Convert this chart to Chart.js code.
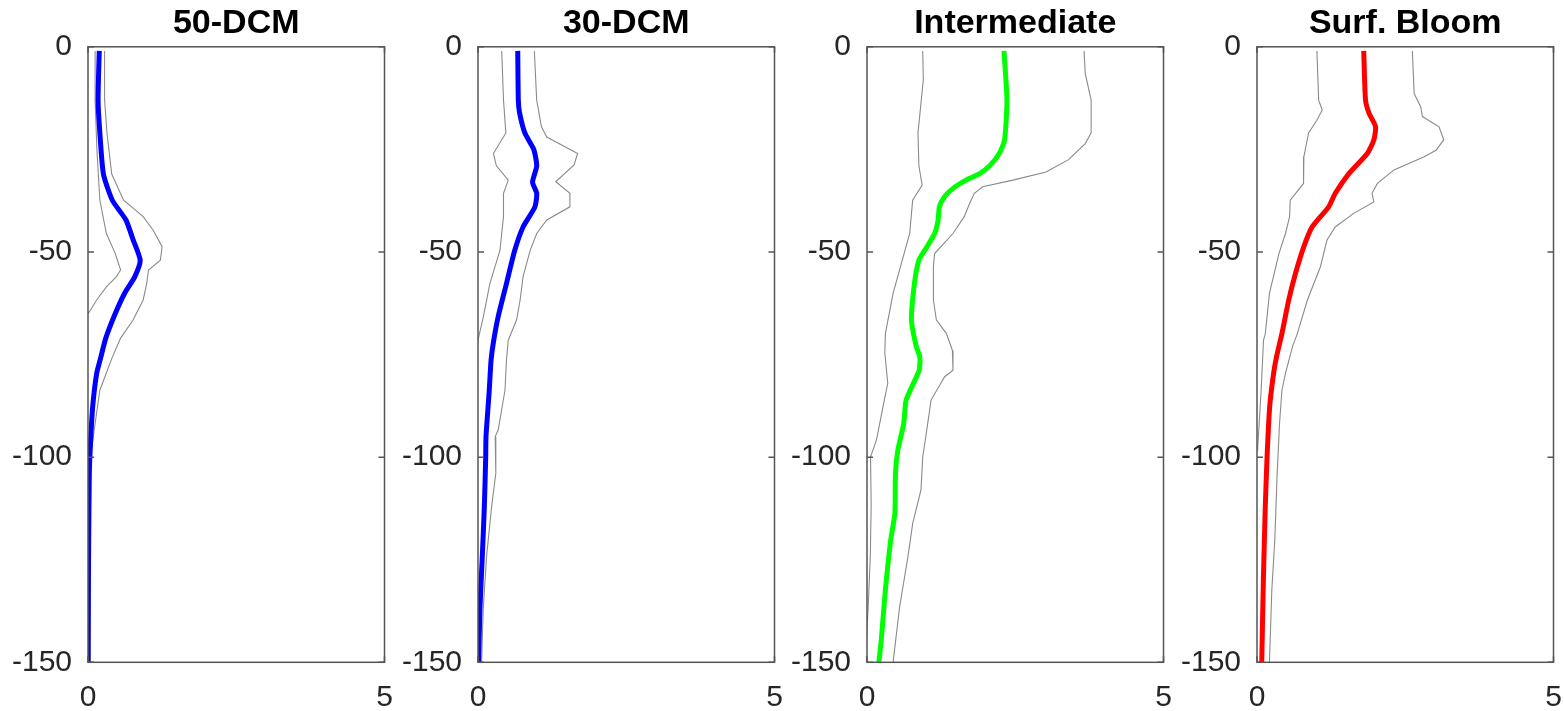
<!DOCTYPE html>
<html>
<head>
<meta charset="utf-8">
<script src="https://cdn.jsdelivr.net/npm/chart.js@4.4.1/dist/chart.umd.min.js"></script>
<style>
  html, body { margin: 0; background: #fff; }
  body { width: 1564px; height: 711px; position: relative; overflow: hidden; }
  canvas { position: absolute; top: 0; }
</style>
</head>
<body>
<canvas id="p1" width="405" height="711" style="left:0px"></canvas>
<canvas id="p2" width="405" height="711" style="left:390px"></canvas>
<canvas id="p3" width="405" height="711" style="left:779px"></canvas>
<canvas id="p4" width="405" height="711" style="left:1169px"></canvas>
<script>
// ==========================
// DADOS  [valor, profundidade]
// ==========================
const titulos = ['50-DCM', '30-DCM', 'Intermediate', 'Surf. Bloom'];
const xTicks = [0, 5];
const yTicks = [-150, -100, -50, 0];

const dcm50Media = [[0.19,-1],[0.17,-13],[0.2,-21],[0.26,-31],[0.41,-37.4],[0.64,-42.2],[0.76,-47],[0.88,-52],[0.79,-56],[0.62,-60],[0.46,-65],[0.3,-71],[0.21,-76],[0.146,-79.6],[0.079,-87.7],[0.045,-95.8],[0.022,-104],[0.011,-120],[0.0,-150]];
const dcm50Inf   = [[0.12,-1],[0.12,-13],[0.15,-25],[0.2,-37.4],[0.31,-45.5],[0.46,-50.4],[0.55,-54.4],[0.48,-56],[0.31,-58.5],[0.146,-61.7],[0.006,-65],[-0.05,-66],[-0.05,-150]];
const dcm50Sup   = [[0.28,-1],[0.28,-13],[0.32,-21],[0.4,-31],[0.6,-37.4],[0.93,-41.4],[1.1,-44.7],[1.25,-48.7],[1.22,-52],[1.02,-54.4],[0.99,-57.7],[0.93,-61.7],[0.76,-66.6],[0.55,-71],[0.4,-76],[0.2,-83.7],[0.12,-91.8],[0.045,-99.9],[0.034,-112],[0.045,-150]];

const dcm30Media = [[0.67,-1],[0.68,-13],[0.7,-16],[0.79,-21],[0.94,-25],[0.99,-29],[0.92,-33],[0.99,-35.7],[0.96,-39],[0.76,-43.9],[0.62,-49.6],[0.48,-57.7],[0.34,-65.8],[0.26,-72],[0.22,-76.4],[0.19,-83.7],[0.135,-95],[0.13,-100],[0.107,-112],[0.073,-124],[0.034,-136.5],[0.01,-150]];
const dcm30Inf   = [[0.4,-1],[0.43,-13],[0.47,-21],[0.26,-26],[0.31,-29],[0.51,-32.5],[0.43,-35.7],[0.43,-41.4],[0.37,-49.6],[0.2,-57.7],[0.09,-65.8],[0,-71.5],[-0.05,-73],[-0.05,-150]];
const dcm30Sup   = [[0.95,-1],[0.99,-13],[1.07,-19.5],[1.16,-22],[1.68,-26],[1.62,-28.8],[1.31,-32.9],[1.55,-35.7],[1.55,-39],[1.16,-42.2],[0.99,-45.5],[0.88,-49.6],[0.76,-56],[0.71,-61.7],[0.65,-66.6],[0.51,-71.5],[0.48,-76.4],[0.455,-83.7],[0.34,-93.4],[0.29,-95],[0.3,-104],[0.23,-112],[0.146,-124],[0.09,-136.5],[0.06,-150]];

const interMedia = [[2.31,-1],[2.36,-13],[2.32,-22.7],[2.23,-26],[2.07,-29],[1.9,-30.9],[1.67,-32.5],[1.45,-34.5],[1.31,-36.5],[1.22,-39],[1.2,-42.2],[1.14,-45.5],[1.0,-49],[0.875,-52],[0.8,-57.7],[0.75,-66.6],[0.83,-73],[0.89,-75.5],[0.88,-78.8],[0.66,-86.1],[0.62,-91.8],[0.52,-98.3],[0.48,-104],[0.47,-113.7],[0.4,-120.2],[0.31,-132.4],[0.24,-144.6],[0.2,-150]];
const interInf   = [[0.94,-1],[0.95,-8],[0.86,-21],[0.875,-29],[0.93,-33.7],[0.77,-37.4],[0.72,-45.5],[0.58,-52.8],[0.44,-60.1],[0.31,-69.9],[0.3,-74.5],[0.35,-82],[0.27,-87.7],[0.16,-95.8],[0.06,-99.9],[0.07,-112],[0.056,-124],[0.02,-136.5],[-0.01,-144.6],[-0.05,-150]];
const interSup   = [[3.66,-1],[3.68,-6.5],[3.78,-13],[3.78,-21],[3.68,-23.6],[3.4,-27.5],[3.02,-30.5],[2.46,-32.5],[1.95,-34.1],[1.81,-35.7],[1.73,-38.2],[1.64,-41.4],[1.45,-45.5],[1.14,-50.4],[1.12,-53.6],[1.12,-61.7],[1.17,-66.6],[1.34,-69.9],[1.44,-74],[1.45,-78.8],[1.31,-80.4],[1.08,-86.1],[1.0,-94.2],[0.94,-99.9],[0.91,-108],[0.77,-116.2],[0.69,-124.3],[0.55,-136.5],[0.44,-150]];

const surfMedia = [[1.8,-1],[1.83,-13],[1.89,-16.2],[2.0,-19.5],[1.97,-22.7],[1.86,-26],[1.55,-30.9],[1.32,-35.7],[1.21,-39],[0.93,-43.9],[0.79,-48.7],[0.65,-55.2],[0.535,-61.7],[0.42,-69.9],[0.33,-75.5],[0.28,-79.6],[0.214,-87.7],[0.17,-99.9],[0.14,-112],[0.11,-128.4],[0.08,-150]];
const surfInf   = [[1.01,-1],[1.04,-13],[1.1,-15.4],[1.01,-17.9],[0.87,-21],[0.79,-26.8],[0.78,-29.2],[0.79,-33.3],[0.56,-37.4],[0.55,-41.4],[0.48,-45.5],[0.37,-50.4],[0.21,-60.1],[0.14,-69.9],[0.11,-71.5],[0.07,-83.7],[0.01,-98.3],[-0.05,-100],[-0.05,-150]];
const surfSup   = [[2.62,-1],[2.65,-11.4],[2.76,-14.6],[2.79,-17],[3.07,-19.5],[3.15,-22.7],[3.02,-25.2],[2.82,-26.8],[2.31,-30],[2.03,-33.3],[1.94,-35.7],[1.97,-37.8],[1.63,-40.6],[1.32,-43.9],[1.18,-47.1],[1.07,-53.6],[0.85,-61.7],[0.68,-69.9],[0.6,-73],[0.48,-79.6],[0.42,-83.7],[0.38,-91.8],[0.34,-104],[0.3,-120.2],[0.25,-132.4],[0.21,-150]];

const coresMedia = ['#0000ff', '#0000ff', '#00ff00', '#ff0000'];

// ==========================
// GRÁFICOS
// ==========================
const fonte = "'Liberation Sans', Arial, Helvetica, sans-serif";

const pts = arr => arr.map(p => ({ x: p[0], y: p[1] }));

// moldura + ticks internos (estilo MATLAB)
const moldura = {
  id: 'moldura',
  afterDatasetsDraw(chart) {
    const { ctx, chartArea: a, scales: { x, y } } = chart;
    ctx.save();
    ctx.strokeStyle = '#555555';
    ctx.lineWidth = 1.5;
    ctx.strokeRect(a.left, a.top, a.width, a.height);
    ctx.beginPath();
    yTicks.forEach(v => {
      const py = y.getPixelForValue(v);
      ctx.moveTo(a.left, py); ctx.lineTo(a.left + 6, py);
      ctx.moveTo(a.right, py); ctx.lineTo(a.right - 6, py);
    });
    xTicks.forEach(v => {
      const px = x.getPixelForValue(v);
      ctx.moveTo(px, a.bottom); ctx.lineTo(px, a.bottom - 6);
      ctx.moveTo(px, a.top); ctx.lineTo(px, a.top + 6);
    });
    ctx.stroke();
    ctx.restore();
  }
};

function criarPainel(id, titulo, cor, media, inf, sup) {
  const cinza = { borderColor: '#8a8a8a', borderWidth: 1.1, pointRadius: 0, showLine: true, tension: 0 };
  return new Chart(document.getElementById(id), {
    type: 'scatter',
    data: {
      datasets: [
        { data: pts(media), borderColor: cor, borderWidth: 5, pointRadius: 0, showLine: true, tension: 0.2 },
        Object.assign({ data: pts(inf) }, cinza),
        Object.assign({ data: pts(sup) }, cinza)
      ]
    },
    options: {
      responsive: false,
      animation: false,
      events: [],
      layout: { padding: { right: 20.5 } },
      plugins: {
        legend: { display: false },
        tooltip: { enabled: false },
        title: {
          display: true, text: titulo, fullSize: false, color: '#000',
          font: { family: fonte, size: 34, weight: 'bold', lineHeight: 1.2 },
          padding: { top: 3, bottom: 3 }
        }
      },
      scales: {
        x: {
          type: 'linear', min: 0, max: 5,
          afterBuildTicks: s => { s.ticks = xTicks.map(v => ({ value: v })); },
          ticks: { color: '#262626', font: { family: fonte, size: 30 }, padding: 17, maxRotation: 0 },
          grid: { display: false, drawTicks: false },
          border: { display: false },
          afterFit: s => { s.height = 48.7; s.paddingLeft = 0; s.paddingRight = 0; }
        },
        y: {
          type: 'linear', min: -150, max: 0,
          afterBuildTicks: s => { s.ticks = yTicks.map(v => ({ value: v })); },
          ticks: { color: '#262626', font: { family: fonte, size: 30 }, padding: 16 },
          grid: { display: false, drawTicks: false },
          border: { display: false },
          afterFit: s => { s.width = 88; s.paddingTop = 0; s.paddingBottom = 0; }
        }
      }
    },
    plugins: [moldura]
  });
}

// ==========================
// INICIALIZAÇÃO
// ==========================
criarPainel('p1', titulos[0], coresMedia[0], dcm50Media, dcm50Inf, dcm50Sup);
criarPainel('p2', titulos[1], coresMedia[1], dcm30Media, dcm30Inf, dcm30Sup);
criarPainel('p3', titulos[2], coresMedia[2], interMedia, interInf, interSup);
criarPainel('p4', titulos[3], coresMedia[3], surfMedia, surfInf, surfSup);
</script>
</body>
</html>
